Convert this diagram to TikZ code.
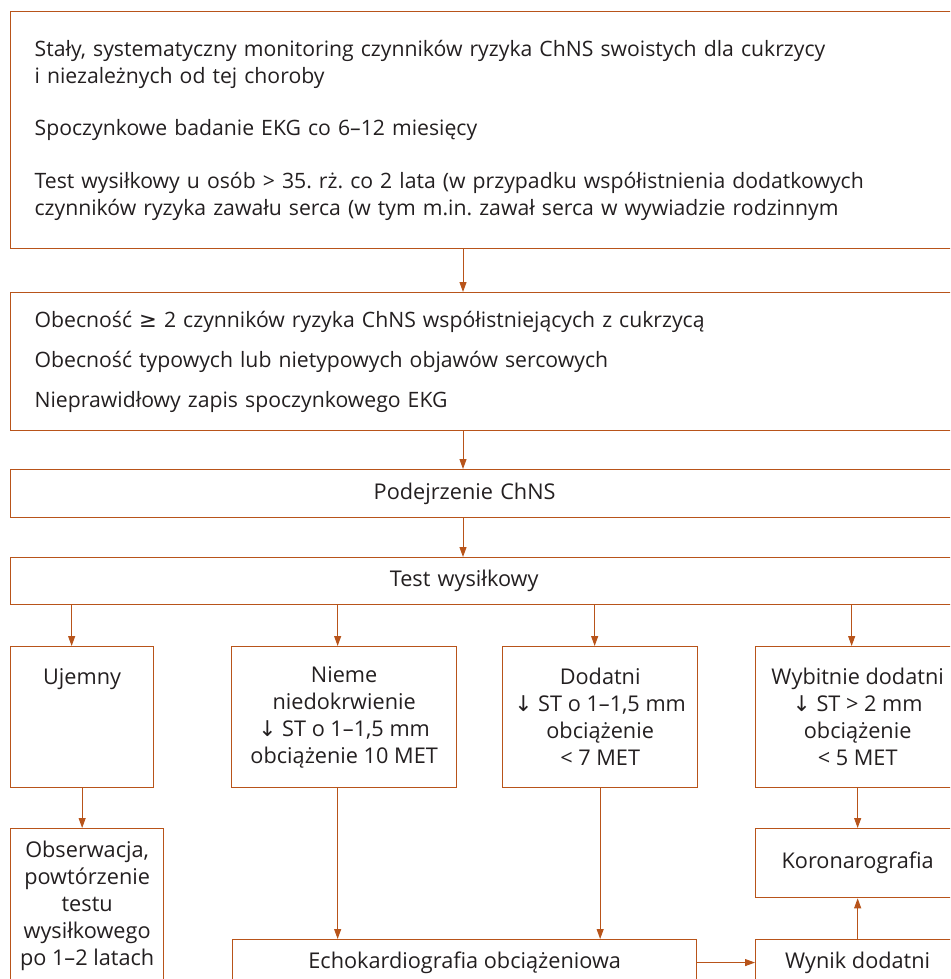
\documentclass[tikz,border=0pt]{standalone}
\usepackage{fontspec}
\setmainfont{Open Sans}
\newfontfamily\symfont{DejaVu Sans}
\usetikzlibrary{arrows.meta}
\definecolor{ramkakolor}{RGB}{184,84,26}
\definecolor{tekstkolor}{RGB}{35,31,32}
\newcommand{\wdol}{{\symfont ↓}}
\newcommand{\conajmniej}{{\symfont ≥}}
\frenchspacing
\begin{document}
\begin{tikzpicture}[x=1pt,y=-1pt,
  >={Triangle[length=10pt,width=7pt]},
  every node/.style={font=\fontsize{21.7}{27}\selectfont, text=tekstkolor},
  ramka/.style={draw=ramkakolor, line width=1.3pt, rectangle, anchor=north west},
  szeroka/.style={ramka, inner xsep=24pt, text width=912pt, align=left},
  tresc/.style={font=\fontsize{21.2}{27}\selectfont},
  kratka/.style={ramka, align=center, inner xsep=4pt},
  strzalka/.style={draw=ramkakolor, line width=1pt, ->}]
  \useasboundingbox (0,0) rectangle (950,979);
  \clip (0,0) rectangle (950,979);

  \node[szeroka, tresc, minimum height=237pt] (monitoring) at (10,11)
    {Stały, systematyczny monitoring czynników ryzyka ChNS swoistych dla cukrzycy\\
     i niezależnych od tej choroby\\[25pt]
     Spoczynkowe badanie EKG co 6–12 miesięcy\\[26pt]
     Test wysiłkowy u osób > 35. rż. co 2 lata (w przypadku współistnienia dodatkowych\\
     czynników ryzyka zawału serca (w tym m.in. zawał serca w wywiadzie rodzinnym};
  \node[szeroka, tresc, minimum height=138pt] (kryteria) at (10,292)
    {Obecność \conajmniej{} 2 czynników ryzyka ChNS współistniejących z cukrzycą\\[13pt]
     Obecność typowych lub nietypowych objawów sercowych\\[13pt]
     Nieprawidłowy zapis spoczynkowego EKG};
  \node[szeroka, minimum height=48pt] (podejrzenie) at (10,469)
    {\makebox[860pt]{Podejrzenie ChNS}};
  \node[szeroka, minimum height=47pt] (test) at (10,557)
    {\makebox[859pt]{Test wysiłkowy}};

  \node[kratka, minimum width=143pt, inner ysep=4pt, text height=34pt, text depth=99pt] (ujemny) at (10,646) {Ujemny};
  \node[kratka, minimum width=225pt, minimum height=141pt] (nieme) at (231,646)
    {Nieme\\ niedokrwienie\\ \wdol{} ST o 1–1,5 mm\\ obciążenie 10 MET};
  \node[kratka, minimum width=195pt, minimum height=141pt] (dodatni) at (502,646)
    {Dodatni\\ \wdol{} ST o 1–1,5 mm\\ obciążenie\\ < 7 MET};
  \node[kratka, minimum width=204pt, minimum height=141pt] (wybitnie) at (755,646)
    {Wybitnie dodatni\\ \wdol{} ST > 2 mm\\ obciążenie\\ < 5 MET};

  \node[kratka, minimum width=153pt, inner ysep=12pt] (obserwacja) at (10,828)
    {Obserwacja,\\ powtórzenie\\ testu\\ wysiłkowego\\ po 1–2 latach};
  \node[kratka, minimum width=204pt, minimum height=69pt] (koronarografia) at (755,828) {Koronarografia};
  \node[kratka, minimum width=464pt, inner ysep=12pt] (echo) at (232,939) {Echokardiografia obciążeniowa};
  \node[kratka, minimum width=204pt, inner ysep=12pt] (wynik) at (755,939) {Wynik dodatni};

  \coordinate (os) at (463,0);
  \draw[strzalka] (monitoring.south -| os) -- (kryteria.north -| os);
  \draw[strzalka] (kryteria.south -| os) -- (podejrzenie.north -| os);
  \draw[strzalka] (podejrzenie.south -| os) -- (test.north -| os);
  \draw[strzalka] ([xshift=-10.5pt]ujemny.north |- test.south) -- ([xshift=-10.5pt]ujemny.north);
  \draw[strzalka] ([xshift=-6.5pt]nieme.north |- test.south) -- ([xshift=-6.5pt]nieme.north);
  \draw[strzalka] ([xshift=-5.5pt]dodatni.north |- test.south) -- ([xshift=-5.5pt]dodatni.north);
  \draw[strzalka] ([xshift=-6pt]wybitnie.north |- test.south) -- ([xshift=-6pt]wybitnie.north);
  \draw[strzalka] (ujemny.south) -- (ujemny.south |- obserwacja.north);
  \draw[strzalka] ([xshift=-6.5pt]nieme.south) -- ([xshift=-6.5pt]nieme.south |- echo.north);
  \draw[strzalka] (dodatni.south) -- (dodatni.south |- echo.north);
  \draw[strzalka] (wybitnie.south) -- (koronarografia.north);
  \draw[strzalka] (wynik.north) -- (koronarografia.south);
  \draw[strzalka] (echo.east) -- (wynik.west |- echo.east);
\end{tikzpicture}
\end{document}
